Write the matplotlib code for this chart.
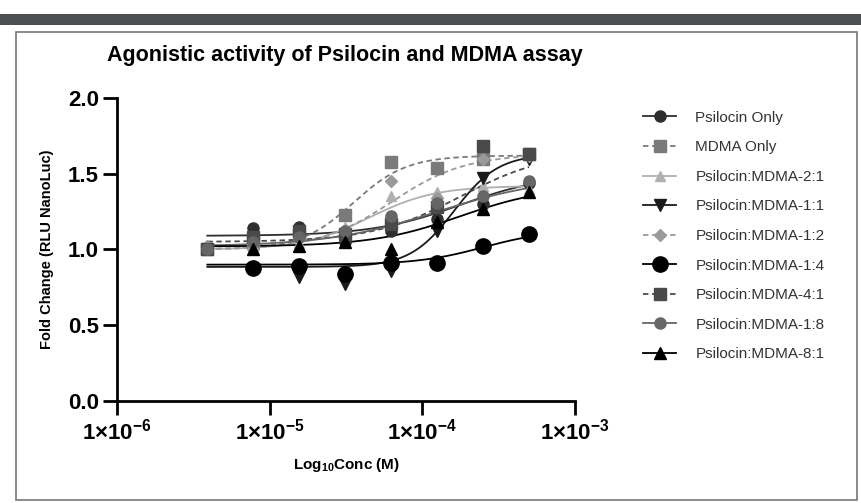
import numpy as np
import matplotlib
matplotlib.use("Agg")
import matplotlib.pyplot as plt
from matplotlib.patches import Rectangle

# ---------------- DATA ----------------
conc = [3.906e-6, 7.8125e-6, 1.5625e-5, 3.125e-5, 6.25e-5, 1.25e-4, 2.5e-4, 5e-4]
nan = np.nan

labels = ["Psilocin Only", "MDMA Only", "Psilocin:MDMA-2:1", "Psilocin:MDMA-1:1",
          "Psilocin:MDMA-1:2", "Psilocin:MDMA-1:4", "Psilocin:MDMA-4:1",
          "Psilocin:MDMA-1:8", "Psilocin:MDMA-8:1"]

psilocin_only = [nan, 1.14, 1.15, 1.05, 1.12, 1.20, 1.30, 1.44]
mdma_only     = [1.00, 1.05, 1.10, 1.23, 1.58, 1.54, 1.60, 1.63]
ratio_2_1     = [1.00, 1.02, 1.04, 1.15, 1.35, 1.38, 1.42, 1.40]
ratio_1_1     = [nan, 0.87, 0.82, 0.77, 0.86, 1.12, 1.47, 1.60]
ratio_1_2     = [1.02, 1.00, 1.08, 1.12, 1.45, 1.34, 1.60, 1.62]
ratio_1_4     = [nan, 0.88, 0.89, 0.84, 0.91, 0.91, 1.02, 1.10]
ratio_4_1     = [1.00, 1.08, 1.12, 1.10, 1.17, 1.28, 1.68, 1.63]
ratio_1_8     = [1.00, 1.05, 1.08, 1.12, 1.22, 1.31, 1.35, 1.45]
ratio_8_1     = [nan, 1.00, 1.02, 1.05, 1.00, 1.18, 1.27, 1.38]

# 4PL fit parameters: bottom, top, logEC50, hill
fit_bottom = [1.09, 1.00, 1.00, 0.885, 1.00, 0.90, 1.05, 1.02, 1.02]
fit_top    = [1.50, 1.62, 1.42, 1.63, 1.63, 1.13, 1.65, 1.48, 1.42]
fit_logec  = [-3.75, -4.45, -4.35, -3.79, -4.20, -3.60, -3.75, -3.90, -3.75]
fit_hill   = [1.5, 2.5, 2.0, 3.0, 1.8, 2.0, 1.5, 1.2, 1.5]

series = [psilocin_only, mdma_only, ratio_2_1, ratio_1_1, ratio_1_2,
          ratio_1_4, ratio_4_1, ratio_1_8, ratio_8_1]

# ---------------- STYLE ----------------
markers = ["o", "s", "^", "v", "D", "o", "s", "o", "^"]
msizes  = [8, 8, 7.5, 8.5, 6, 11, 9, 8, 9]
colors  = ["#2e2e2e", "#7a7a7a", "#b0b0b0", "#1a1a1a", "#9a9a9a",
           "#000000", "#4a4a4a", "#666666", "#000000"]
lstyles = ["-", (0, (3, 2)), "-", "-", (0, (3, 2)), "-", (0, (3, 2)), "-", "-"]

plt.rcParams["font.family"] = ["Liberation Sans", "DejaVu Sans"]
plt.rcParams["mathtext.fontset"] = "custom"
plt.rcParams["mathtext.rm"] = "Liberation Sans"
plt.rcParams["mathtext.bf"] = "Liberation Sans:bold"


def four_pl(x, bottom, top, logec, hill):
    return bottom + (top - bottom) / (1 + 10 ** ((logec - x) * hill))


fig = plt.figure(figsize=(8.61, 5.03), dpi=100)
W, H = 861, 503

# page frame (dark header bar + thin border)
fig.add_artist(Rectangle((0, 1 - 25 / H), 1, 11 / H, transform=fig.transFigure,
                         facecolor="#4b4f52", edgecolor="none"))
fig.add_artist(Rectangle((16 / W, 1 - 500 / H), (857 - 16) / W, (500 - 32) / H,
                         transform=fig.transFigure,
                         facecolor="none", edgecolor="#777777", lw=1.2))

ax = fig.add_axes([117 / W, 1 - 401 / H, (575 - 117) / W, (401 - 98) / H])

xfit = np.linspace(np.log10(conc[0]), np.log10(conc[-1]), 300)
for i, vals in enumerate(series):
    yfit = four_pl(xfit, fit_bottom[i], fit_top[i], fit_logec[i], fit_hill[i])
    ax.plot(10 ** xfit, yfit, color=colors[i], ls=lstyles[i], lw=1.3, zorder=2)
    ax.plot(conc, vals, marker=markers[i], ms=msizes[i], color=colors[i],
            ls="none", zorder=3)
    # legend handle: marker with short line
    ax.plot([], [], marker=markers[i], ms=msizes[i], color=colors[i],
            ls=lstyles[i], lw=1.3, label=labels[i])

ax.set_xscale("log")
ax.set_xlim(1e-6, 1e-3)
ax.set_ylim(0, 2.0)
ax.set_yticks([0, 0.5, 1.0, 1.5, 2.0])
ax.set_yticklabels(["0.0", "0.5", "1.0", "1.5", "2.0"], fontsize=16, fontweight="bold")
ax.set_xticks([1e-6, 1e-5, 1e-4, 1e-3])
ax.set_xticklabels([r"$\mathbf{1×10^{-6}}$", r"$\mathbf{1×10^{-5}}$",
                    r"$\mathbf{1×10^{-4}}$", r"$\mathbf{1×10^{-3}}$"], fontsize=16)
ax.minorticks_off()
ax.tick_params(axis="both", length=10, width=2, direction="out", pad=3)
for s in ["top", "right"]:
    ax.spines[s].set_visible(False)
for s in ["left", "bottom"]:
    ax.spines[s].set_linewidth(2)

ax.set_xlabel(r"Log$_{\mathbf{10}}$Conc (M)", fontsize=11, fontweight="bold", labelpad=8)
ax.set_ylabel("Fold Change (RLU NanoLuc)", fontsize=10.5, fontweight="bold", labelpad=10)

fig.text(345 / W, 1 - 56 / H, "Agonistic activity of Psilocin and MDMA assay",
         ha="center", va="center", fontsize=15.5, fontweight="bold")

leg = ax.legend(loc="upper left", bbox_to_anchor=(629 / W, 1 - 97 / H),
                bbox_transform=fig.transFigure, frameon=False, fontsize=11,
                handlelength=2.2, labelspacing=1.02, handletextpad=1.25,
                labelcolor="#333333")

fig.savefig("out.png", dpi=100)
